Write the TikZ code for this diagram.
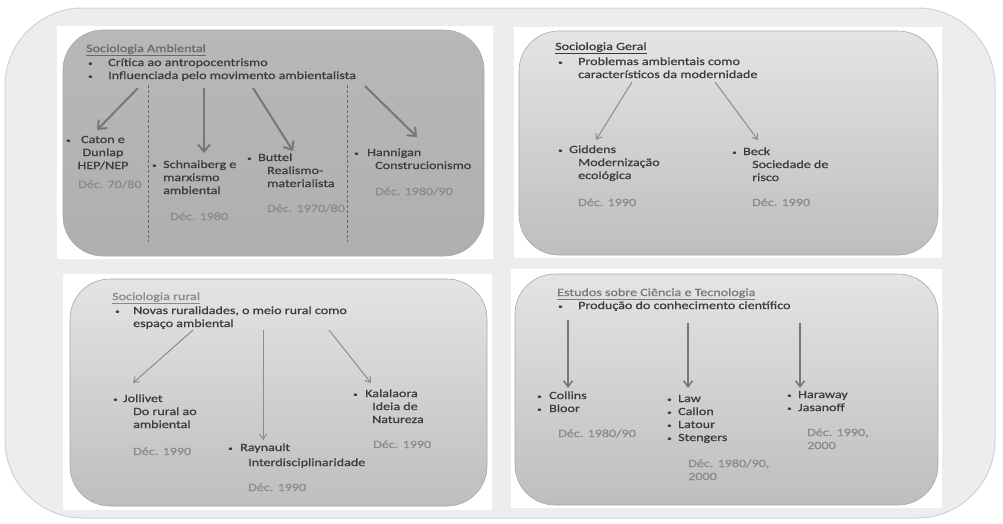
\documentclass[tikz,border=0pt]{standalone}
\usepackage{fontspec}
\setmainfont{Carlito}[FakeStretch=1.28, FakeBold=0.8]
\usetikzlibrary{arrows.meta}
\definecolor{bodytx}{HTML}{3C3C3C}
\definecolor{datetx}{HTML}{8A8A8A}
\definecolor{ttlA}{HTML}{6A6A6A}
\definecolor{ttlB}{HTML}{3A3A3A}
\definecolor{ttlC}{HTML}{8A8A8A}
\definecolor{ttlD}{HTML}{7A7A7A}
\definecolor{outerfill}{HTML}{EDEDED}
\definecolor{outerline}{HTML}{D2D2D2}
\definecolor{boxline}{HTML}{A8A8A8}
\definecolor{arrowc}{HTML}{777777}
\definecolor{arrowl}{HTML}{8C8C8C}
\definecolor{dashc}{HTML}{666666}
\definecolor{darktop}{HTML}{B8B8BB}
\definecolor{darkbot}{HTML}{AFAFB2}
\definecolor{lighttop}{HTML}{E4E4E4}
\definecolor{lightbot}{HTML}{BEBEBE}
\newcommand{\bodyfont}{\fontsize{11}{13}\selectfont}
\newcommand{\bx}[1]{\makebox[#1pt][l]{\raisebox{0.3pt}{\fontsize{7}{7}\selectfont\textbullet}}}
\newcommand{\mlines}[1]{\begin{tabular}[t]{@{}l@{}}#1\end{tabular}}
\newcommand{\mlinesc}[1]{\begin{tabular}[t]{@{}c@{}}#1\end{tabular}}
\tikzset{
  tx/.style={inner sep=0pt, anchor=base west, text=bodytx, font=\bodyfont},
  dt/.style={tx, text=datetx},
  ttl/.style={tx},
  panel/.style={draw=boxline, line width=0.6pt, rounded corners=40pt},
  backrect/.style={fill=white, draw=none},
  thickarrow/.style={draw=arrowc, line width=2pt, -{Straight Barb[length=7pt,width=12pt]}},
  thinarrow/.style={draw=arrowl, line width=1pt, -{Straight Barb[length=5pt,width=7pt]}},
  midarrow/.style={draw=arrowc, line width=1.5pt, -{Straight Barb[length=6pt,width=9pt]}},
  sep/.style={draw=dashc, line width=0.8pt, dash pattern=on 3pt off 2pt}
}
\begin{document}
\begin{tikzpicture}[x=1pt,y=-1pt]
\useasboundingbox (0,0) rectangle (1003,523);
\fill[white] (0,0) rectangle (1003,523);
% outer frame
\path[fill=outerfill, draw=outerline, line width=1pt, rounded corners=78pt] (5,8) rectangle (995,518);
% white backgrounds
\path[backrect] (57,26) rectangle (493,259);
\path[backrect] (514,27) rectangle (942,258);
\path[backrect] (63,274) rectangle (492,510);
\path[backrect] (511,269) rectangle (942,508);
% panels
\path[panel, top color=darktop, bottom color=darkbot] (63,30) rectangle (484,256);
\path[panel, top color=lighttop, bottom color=lightbot] (519,31) rectangle (938,255);
\path[panel, top color=lighttop, bottom color=lightbot] (70,279) rectangle (487,506);
\path[panel, top color=lighttop, bottom color=lightbot] (515,274) rectangle (938,505);

% ---------- Sociologia Ambiental ----------
\node[ttl, text=ttlA] (tA) at (86,52) {\underline{Sociologia Ambiental}};
\node[tx] (tA1) at (88,66) {\bx{20}Crítica ao antropocentrismo};
\node[tx] (tA2) at (88,79) {\bx{20}Influenciada pelo movimento ambientalista};
\node[tx] (catonB) at (66,143) {\bx{4}};
\node[tx, anchor=base] (caton) at (103,143) {\mlinesc{Caton e\\Dunlap\\HEP/NEP}};
\node[dt] (dA1) at (78,188) {Déc. 70/80};
\node[tx] (schn) at (152,168) {\mlines{\bx{11}Schnaiberg e\\\hspace*{11pt}marxismo\\\hspace*{11pt}ambiental}};
\node[dt] (dA2) at (170,220) {Déc. 1980};
\node[tx] (butt) at (247,161) {\mlines{\bx{11}Buttel\\\hspace*{20pt}Realismo-\\\hspace*{20pt}materialista}};
\node[dt] (dA3) at (267,212) {Déc. 1970/80};
\node[tx] (hann) at (354,156) {\mlines{\bx{13}Hannigan\\\hspace*{21pt}Construcionismo}};
\node[dt] (dA4) at (375,195) {Déc. 1980/90};
\coordinate (a1s) at (138,88); \coordinate (a1e) at (97,130);
\coordinate (a2s) at (204,88); \coordinate (a2e) at (204,153);
\coordinate (a3s) at (253,88); \coordinate (a3e) at (293,151);
\coordinate (a4s) at (365,86); \coordinate (a4e) at (417,137);
\draw[thickarrow] (a1s) -- (a1e);
\draw[thickarrow] (a2s) -- (a2e);
\draw[thickarrow] (a3s) -- (a3e);
\draw[thickarrow] (a4s) -- (a4e);
\coordinate (v1t) at (148,85); \coordinate (v1b) at (148,242);
\coordinate (v2t) at (347,85); \coordinate (v2b) at (347,242);
\draw[sep] (v1t) -- (v1b);
\draw[sep] (v2t) -- (v2b);

% ---------- Sociologia Geral ----------
\node[ttl, text=ttlB] (tB) at (555,50) {\underline{Sociologia Geral}};
\node[tx] (tB1) at (558,65) {\mlines{\bx{20}Problemas ambientais como\\\hspace*{20pt}característicos da modernidade}};
\node[tx] (gidd) at (558,153) {\mlines{\bx{11}Giddens\\\hspace*{20pt}Modernização\\\hspace*{20pt}ecológica}};
\node[dt] (dB1) at (578,206) {Déc. 1990};
\node[tx] (beck) at (732,155) {\mlines{\bx{11}Beck\\\hspace*{20pt}Sociedade de\\\hspace*{20pt}risco}};
\node[dt] (dB2) at (752,206) {Déc. 1990};
\coordinate (b1s) at (632,82); \coordinate (b1e) at (596,140);
\coordinate (b2s) at (715,82); \coordinate (b2e) at (758,140);
\draw[thinarrow] (b1s) -- (b1e);
\draw[thinarrow] (b2s) -- (b2e);

% ---------- Sociologia rural ----------
\node[ttl, text=ttlC] (tC) at (112,300) {\underline{Sociologia rural}};
\node[tx] (tC1) at (115,314) {\mlines{\bx{18}Novas ruralidades, o meio rural como\\\hspace*{18pt}espaço ambiental}};
\node[tx] (joll) at (113,402) {\mlines{\bx{10}Jollivet\\\hspace*{20pt}Do rural ao\\\hspace*{20pt}ambiental}};
\node[dt] (dC1) at (133,455) {Déc. 1990};
\node[tx] (rayn) at (228,451) {\mlines{\bx{12}Raynault\\[2pt]\hspace*{20pt}Interdisciplinaridade}};
\node[dt] (dC2) at (248,491) {Déc. 1990};
\node[tx] (kala) at (353,397) {\mlines{\bx{12}Kalalaora\\\hspace*{19pt}Ideia de\\\hspace*{19pt}Natureza}};
\node[dt] (dC3) at (373,448) {Déc. 1990};
\coordinate (c1s) at (193,330); \coordinate (c1e) at (133,383);
\coordinate (c2s) at (263,330); \coordinate (c2e) at (263,440);
\coordinate (c3s) at (329,330); \coordinate (c3e) at (371,383);
\draw[thinarrow] (c1s) -- (c1e);
\draw[thinarrow] (c2s) -- (c2e);
\draw[thinarrow] (c3s) -- (c3e);

% ---------- Estudos sobre Ciência e Tecnologia ----------
\node[ttl, text=ttlD] (tD) at (557,296) {\underline{Estudos sobre Ciência e Tecnologia}};
\node[tx] (tD1) at (558,309) {\bx{20}Produção do conhecimento científico};
\node[tx] (coll) at (537,399) {\mlines{\bx{12}Collins\\\bx{12}Bloor}};
\node[dt] (dD1) at (558,437) {Déc. 1980/90};
\node[tx] (law) at (667,402) {\mlines{\bx{11}Law\\\bx{11}Callon\\\bx{11}Latour\\\bx{11}Stengers}};
\node[dt] (dD2) at (688,467) {\mlines{Déc. 1980/90,\\2000}};
\node[tx] (hara) at (787,398) {\mlines{\bx{11}Haraway\\\bx{11}Jasanoff}};
\node[dt] (dD3) at (807,436) {\mlines{Déc. 1990,\\2000}};
\coordinate (d1s) at (568,320); \coordinate (d1e) at (568,388);
\coordinate (d2s) at (688,323); \coordinate (d2e) at (688,388);
\coordinate (d3s) at (800,323); \coordinate (d3e) at (800,388);
\draw[midarrow] (d1s) -- (d1e);
\draw[midarrow] (d2s) -- (d2e);
\draw[midarrow] (d3s) -- (d3e);
\end{tikzpicture}
\end{document}
